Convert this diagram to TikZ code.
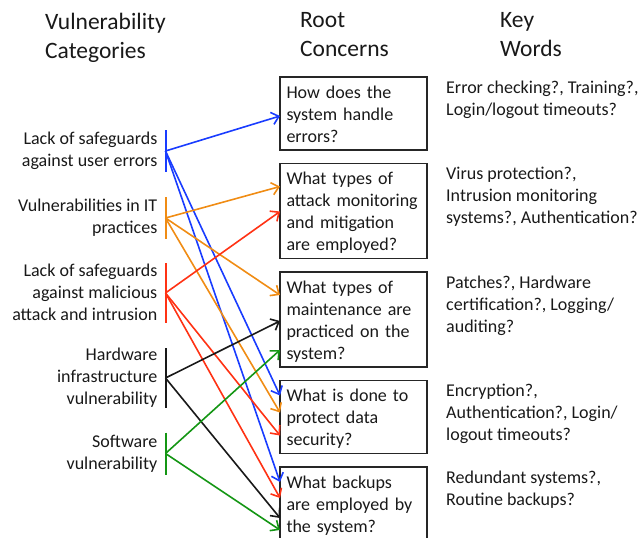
\documentclass[tikz,border=0pt]{standalone}
\usepackage{fontspec}
\setmainfont{Carlito}
\usetikzlibrary{arrows.meta,positioning}

\definecolor{catblue}{RGB}{25,60,255}
\definecolor{catorange}{RGB}{240,140,20}
\definecolor{catred}{RGB}{255,50,20}
\definecolor{catgreen}{RGB}{20,150,20}

% struts a little higher than the usual ones
\newcommand\topstrut{\rule{0pt}{17.6pt}}
\newcommand\botstrut{\rule[-4.4pt]{0pt}{4.4pt}}

\tikzset{
  body/.style={font=\fontsize{18}{22}\selectfont, text=black!90,
    execute at begin node=\topstrut, execute at end node=\botstrut},
  concern/.style={body, draw=black!85, line width=1.1pt, outer sep=0pt, align=left,
    text width=134pt, inner xsep=6.5pt, inner ysep=3.5pt},
  keyword/.style={body, align=left, inner xsep=0pt, inner ysep=3.5pt, anchor=north west},
  category/.style={font=\fontsize{18}{22}\selectfont, text=black!90,
    execute at begin node=\rule{0pt}{20.6pt}, execute at end node=\rule[-1.4pt]{0pt}{1.4pt},
    align=right, inner xsep=8pt, inner ysep=0pt, anchor=east},
  header/.style={font=\fontsize{23.5}{29}\selectfont, text=black!90, align=left,
    inner sep=0pt, anchor=north west,
    execute at begin node=\strut, execute at end node=\strut},
  bar/.style={line width=2pt},
  link/.style={line width=1.6pt, -{Straight Barb[length=7pt,width=12.5pt]}}
}

\begin{document}
\begin{tikzpicture}[x=1pt, y=-1pt]
  \useasboundingbox (0,0) rectangle (641,538);

  % column titles
  \node [header] (hcat) at (45,12.5) {Vulnerability\\Categories};
  \node [header] (hroot) at (300,12.5) {Root\\Concerns};
  \node [header] (hkey) at (500,12.5) {Key\\Words};

  % root concerns
  \node [concern, anchor=north west] (box1) at (280,77) {How does the\\system handle\\errors?};
  \node [concern, below=13.5pt of box1] (box2) {What types of\\attack monitoring\\and mitigation\\are employed?};
  \node [concern, below=13.5pt of box2] (box3) {What types of\\maintenance are\\practiced on the\\system?};
  \node [concern, below=13.5pt of box3] (box4) {What is done to\\protect data\\security?};
  \node [concern, below=13.5pt of box4] (box5) {What backups\\are employed by\\the system?};

  % key words
  \node [keyword] (key1) at ([xshift=19pt]box1.north east) {Error checking?, Training?,\\Login/logout timeouts?};
  \node [keyword] (key2) at ([xshift=19pt]box2.north east) {Virus protection?,\\Intrusion monitoring\\systems?, Authentication?};
  \node [keyword] (key3) at ([xshift=19pt]box3.north east) {Patches?, Hardware\\certification?, Logging/\\auditing?};
  \node [keyword] (key4) at ([xshift=19pt]box4.north east) {Encryption?,\\Authentication?, Login/\\logout timeouts?};
  \node [keyword] (key5) at ([xshift=19pt]box5.north east) {Redundant systems?,\\Routine backups?};

  % categories
  \node [category] (cat1) at (165.5,151) {Lack of safeguards\\against user errors};
  \node [category] (cat2) at (165.5,218) {Vulnerabilities in IT\\practices};
  \node [category] (cat3) at (165.5,293) {Lack of safeguards\\against malicious\\attack and intrusion};
  \node [category] (cat4) at (165.5,378) {Hardware\\infrastructure\\vulnerability};
  \node [category] (cat5) at (165.5,453.5) {Software\\vulnerability};

  \draw [bar, catblue] ([yshift=21pt]cat1.east) -- ([yshift=-21pt]cat1.east);
  \draw [bar, catorange] ([yshift=21pt]cat2.east) -- ([yshift=-21pt]cat2.east);
  \draw [bar, catred] ([yshift=30pt]cat3.east) -- ([yshift=-30pt]cat3.east);
  \draw [bar, black!90] ([yshift=30pt]cat4.east) -- ([yshift=-30pt]cat4.east);
  \draw [bar, catgreen] ([yshift=21pt]cat5.east) -- ([yshift=-21pt]cat5.east);

  % links
  \draw [link, catblue] (cat1.east) -- ([yshift=-39pt]box1.north west);
  \draw [link, catblue] (cat1.east) -- ([yshift=-15pt]box4.north west);
  \draw [link, catblue] (cat1.east) -- ([yshift=-15pt]box5.north west);
  \draw [link, catorange] (cat2.east) -- ([yshift=-23pt]box2.north west);
  \draw [link, catorange] (cat2.east) -- ([yshift=-23pt]box3.north west);
  \draw [link, catorange] (cat2.east) -- ([yshift=-32pt]box4.north west);
  \draw [link, catred] (cat3.east) -- ([yshift=-48pt]box2.north west);
  \draw [link, catred] (cat3.east) -- ([yshift=-55pt]box4.north west);
  \draw [link, catred] (cat3.east) -- ([yshift=-31pt]box5.north west);
  \draw [link, black!90] (cat4.east) -- ([yshift=-49pt]box3.north west);
  \draw [link, black!90] (cat4.east) -- ([yshift=-51pt]box5.north west);
  \draw [link, catgreen] (cat5.east) -- ([yshift=-78pt]box3.north west);
  \draw [link, catgreen] (cat5.east) -- ([yshift=-63pt]box5.north west);
\end{tikzpicture}
\end{document}
